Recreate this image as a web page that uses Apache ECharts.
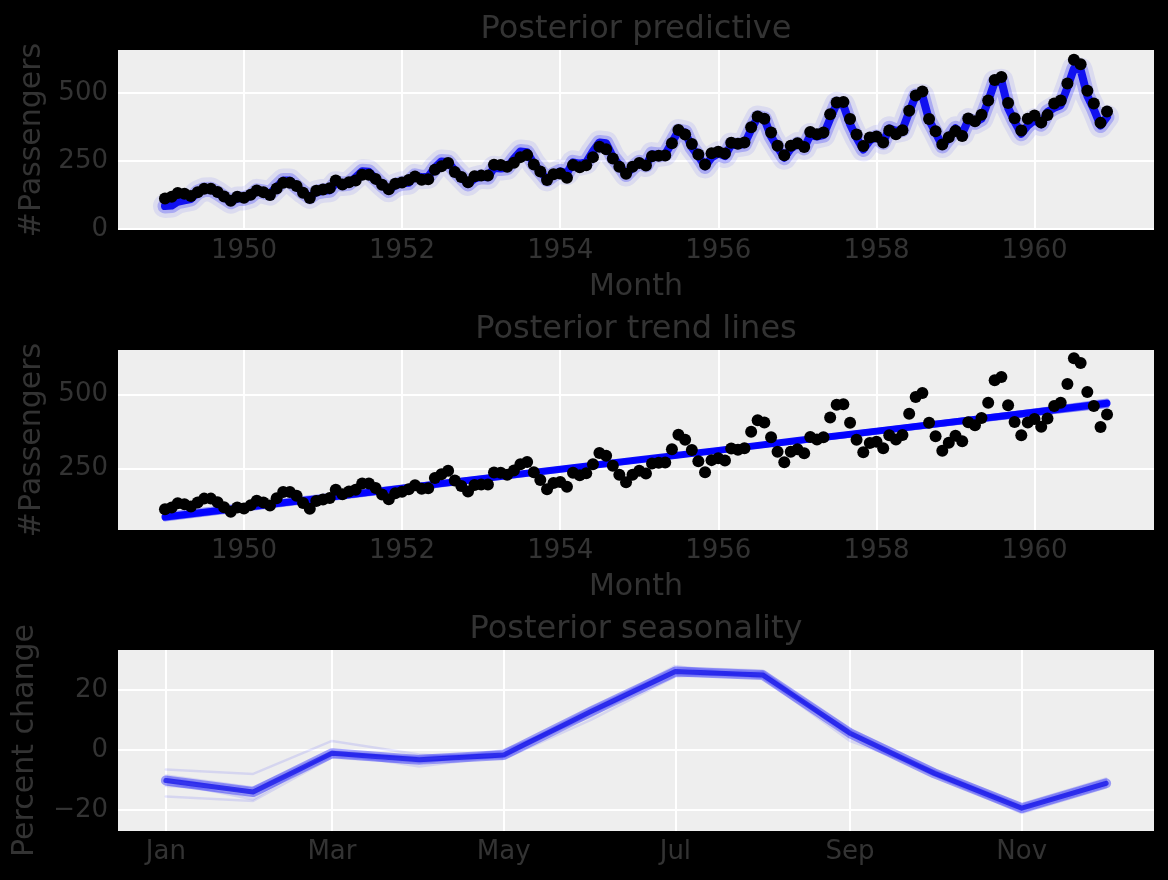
<!DOCTYPE html>
<html>
<head>
<meta charset="utf-8">
<script src="https://cdn.jsdelivr.net/npm/echarts@6/dist/echarts.min.js"></script>
<style>
html,body{margin:0;padding:0;background:#000;}
#chart{width:1168px;height:880px;}
</style>
</head>
<body>
<div id="chart"></div>
<script>
// ---------- data ----------
const years = [1949,1950,1951,1952,1953,1954,1955,1956,1957,1958,1959,1960];
const passengers = [
  112,118,132,129,121,135,148,148,136,119,104,118,
  115,126,141,135,125,149,170,170,158,133,114,140,
  145,150,178,163,172,178,199,199,184,162,146,166,
  171,180,193,181,183,218,230,242,209,191,172,194,
  196,196,236,235,229,243,264,272,237,211,180,201,
  204,188,235,227,234,264,302,293,259,229,203,229,
  242,233,267,269,270,315,364,347,312,274,237,278,
  284,277,317,313,318,374,413,405,355,306,271,306,
  315,301,356,348,355,422,465,467,404,347,305,336,
  340,318,362,348,363,435,491,505,404,359,310,337,
  360,342,406,396,420,472,548,559,463,407,362,405,
  417,391,419,461,472,535,622,606,508,461,390,432
];
const predictive = [
  84,86,100,105,110,135,145,146,132,116,100,112,
  112,120,140,136,130,155,178,178,155,135,118,135,
  140,142,168,165,168,190,212,210,185,162,142,160,
  168,170,195,190,192,225,248,246,215,190,165,185,
  192,190,225,222,225,258,285,282,240,212,182,200,
  212,205,245,240,245,285,318,315,265,235,200,225,
  245,235,275,272,275,318,360,355,300,268,230,262,
  278,268,310,308,312,365,410,405,340,300,262,295,
  312,298,345,340,345,405,460,455,385,335,292,325,
  338,318,370,360,365,430,490,490,400,355,305,335,
  370,350,400,392,405,470,540,545,445,395,350,380,
  400,385,430,445,455,520,590,585,490,440,380,412
];
const trendDates = ['1949-01-01','1950-01-01','1951-01-01','1952-01-01','1953-01-01','1954-01-01','1955-01-01','1956-01-01','1957-01-01','1958-01-01','1959-01-01','1960-01-01','1960-12-01'];
const trendMean = [86,118,150,183,215,247,279,311,344,376,408,440,470];
const trendA = [79,112,145,178,211,244,277,310,344,377,410,444,478];
const trendB = [94,125,156,187,218,249,280,311,342,373,404,435,462];
const trendC = [82,114,147,180,213,246,279,312,345,378,411,444,474];
const trendD = [90,121,153,185,216,248,279,310,341,372,404,435,464];

const seasonDates = ['1949-01-01','1949-02-01','1949-03-01','1949-04-01','1949-05-01','1949-06-01','1949-07-01','1949-08-01','1949-09-01','1949-10-01','1949-11-01','1949-12-01'];
const seasonMean = [-10.2,-14.0,-1.1,-3.3,-1.7,12.8,26.1,25.0,5.6,-7.8,-19.4,-11.1];
const seasonS1 = [-8.5,-12.5,-0.5,-2.5,-1.0,13.5,27.0,26.0,6.0,-7.0,-18.5,-10.0];
const seasonS2 = [-11.5,-15.5,-2.0,-4.0,-2.5,12.0,25.0,24.0,5.0,-8.5,-20.5,-12.0];
const seasonS3 = [-9.5,-13.0,-1.5,-2.0,-1.5,14.0,26.5,25.5,5.0,-7.5,-19.0,-10.5];
const seasonS4 = [-10.5,-16.5,-0.5,-3.5,-2.0,12.5,25.5,24.5,6.5,-8.0,-20.0,-11.5];
const seasonS5 = [-15.5,-17.0,-2.5,-4.5,0.0,11.0,27.5,26.5,4.0,-8.5,-21.0,-12.5];
const seasonS6 = [-6.5,-8.0,3.0,-1.5,-3.0,10.0,24.5,26.0,7.0,-6.5,-18.0,-9.5];
const seasonS7 = [-9.0,-14.5,-1.0,-5.5,-2.0,13.0,28.0,24.0,3.0,-7.0,-19.5,-10.5];
const seasonS8 = [-12.0,-13.5,-1.5,-2.5,-0.5,12.5,26.0,25.0,5.5,-8.0,-19.0,-11.5];

const yearTicks = ['1950-01-01','1952-01-01','1954-01-01','1956-01-01','1958-01-01','1960-01-01'];
const monthTicks = ['1949-01-01','1949-03-01','1949-05-01','1949-07-01','1949-09-01','1949-11-01'];
const monthNames = ['Jan','Feb','Mar','Apr','May','Jun','Jul','Aug','Sep','Oct','Nov','Dec'];
const passengerTicks = [0,250,500];
const trendTicks = [250,500];
const percentTicks = [-20,0,20];
const titles = ['Posterior predictive','Posterior trend lines','Posterior seasonality'];

// ---------- helpers ----------
function d(s){ const p = s.split('-').map(Number); return new Date(p[0], p[1]-1, p[2]).getTime(); }
const monthDates = [];
years.forEach(y => { for (let m = 0; m < 12; m++) monthDates.push(new Date(y, m, 1).getTime()); });
const pairs = (xs, ys) => ys.map((v, i) => [xs[i], v]);

const FONT = 'DejaVu Sans';
const TXT = '#333333';
const tickFS = 26, labelFS = 30, titleFS = 32;
const plotLeft = 118, plotRight = 14;

const grids = [
  {left: plotLeft, right: plotRight, top: 50, height: 180},
  {left: plotLeft, right: plotRight, top: 350, height: 180},
  {left: plotLeft, right: plotRight, top: 650, height: 181}
].map(g => Object.assign(g, {show: true, backgroundColor: '#eeeeee', borderWidth: 0}));

function xAxisDate(idx, ticks, fmt, min, max, name){
  return {
    type: 'value', gridIndex: idx, min: d(min), max: d(max), scale: true,
    axisLine: {show: false},
    axisTick: {show: false, customValues: ticks.map(d)},
    axisLabel: {customValues: ticks.map(d), formatter: fmt, color: TXT, fontSize: tickFS, fontFamily: FONT, margin: 8},
    splitLine: {show: true, lineStyle: {color: '#ffffff', width: 2}},
    name: name || '', nameLocation: 'middle', nameGap: 42,
    nameTextStyle: {color: TXT, fontSize: labelFS, fontFamily: FONT}
  };
}
function yAxisVal(idx, ticks, min, max, name, gap){
  return {
    type: 'value', gridIndex: idx, min: min, max: max,
    axisLine: {show: false},
    axisTick: {show: false, customValues: ticks},
    axisLabel: {customValues: ticks, color: TXT, fontSize: tickFS, fontFamily: FONT, margin: 10,
      formatter: v => (v < 0 ? '\u2212' + Math.abs(v) : String(v))},
    splitLine: {show: true, lineStyle: {color: '#ffffff', width: 2}},
    name: name, nameLocation: 'middle', nameGap: gap, nameRotate: 90,
    nameTextStyle: {color: TXT, fontSize: labelFS, fontFamily: FONT}
  };
}
const yearFmt = v => String(new Date(v).getFullYear());
const monFmt = v => monthNames[new Date(v).getMonth()];

const series = [];
function line(xi, data, width, color, opacity, z){
  series.push({type: 'line', xAxisIndex: xi, yAxisIndex: xi, data: data, symbol: 'none', silent: true,
    lineStyle: {width: width, color: color, opacity: opacity, join: 'round', cap: 'round'}, z: z || 2});
}
function dots(xi, data){
  series.push({type: 'scatter', xAxisIndex: xi, yAxisIndex: xi, data: data, symbol: 'circle', symbolSize: 12,
    itemStyle: {color: '#000000', opacity: 1}, z: 5, silent: true});
}

// Panel 1: posterior predictive
const predPairs = pairs(monthDates, predictive);
line(0, predPairs, 24, '#0000ff', 0.08, 2);
line(0, predPairs, 15, '#0000ff', 0.22, 2);
line(0, predPairs, 8, '#0000f0', 0.9, 3);
dots(0, pairs(monthDates, passengers));

// Panel 2: trend lines
const tD = trendDates.map(d);
[trendA, trendB, trendC, trendD].forEach(t => line(1, pairs(tD, t), 5, '#0000ff', 0.35, 2));
line(1, pairs(tD, trendMean), 7, '#0000ff', 0.95, 3);
dots(1, pairs(monthDates, passengers));

// Panel 3: seasonality
const sD = seasonDates.map(d);
[seasonS1, seasonS2, seasonS3, seasonS4, seasonS5, seasonS6, seasonS7, seasonS8].forEach(s => line(2, pairs(sD, s), 2.5, '#0000ff', 0.1, 2));
line(2, pairs(sD, seasonMean), 10, '#0000ff', 0.35, 3);
line(2, pairs(sD, seasonMean), 5, '#0a0ae8', 0.7, 3);

const chart = echarts.init(document.getElementById('chart'), null, {renderer: 'canvas'});
chart.setOption({
  backgroundColor: '#000000',
  animation: false,
  title: titles.map((t, i) => ({
    text: t, left: 636, top: 14 + 300 * i, textAlign: 'center', padding: 0,
    textStyle: {color: TXT, fontSize: titleFS, fontWeight: 'normal', fontFamily: FONT}
  })),
  grid: grids,
  xAxis: [
    xAxisDate(0, yearTicks, yearFmt, '1948-05-29', '1961-07-06', 'Month'),
    xAxisDate(1, yearTicks, yearFmt, '1948-05-29', '1961-07-06', 'Month'),
    xAxisDate(2, monthTicks, monFmt, '1948-12-15', '1949-12-18', '')
  ],
  yAxis: [
    yAxisVal(0, passengerTicks, -4, 658, '#Passengers', 69),
    yAxisVal(1, trendTicks, 42, 650, '#Passengers', 69),
    yAxisVal(2, percentTicks, -27, 33.3, 'Percent change', 78)
  ],
  series: series
});
</script>
</body>
</html>
